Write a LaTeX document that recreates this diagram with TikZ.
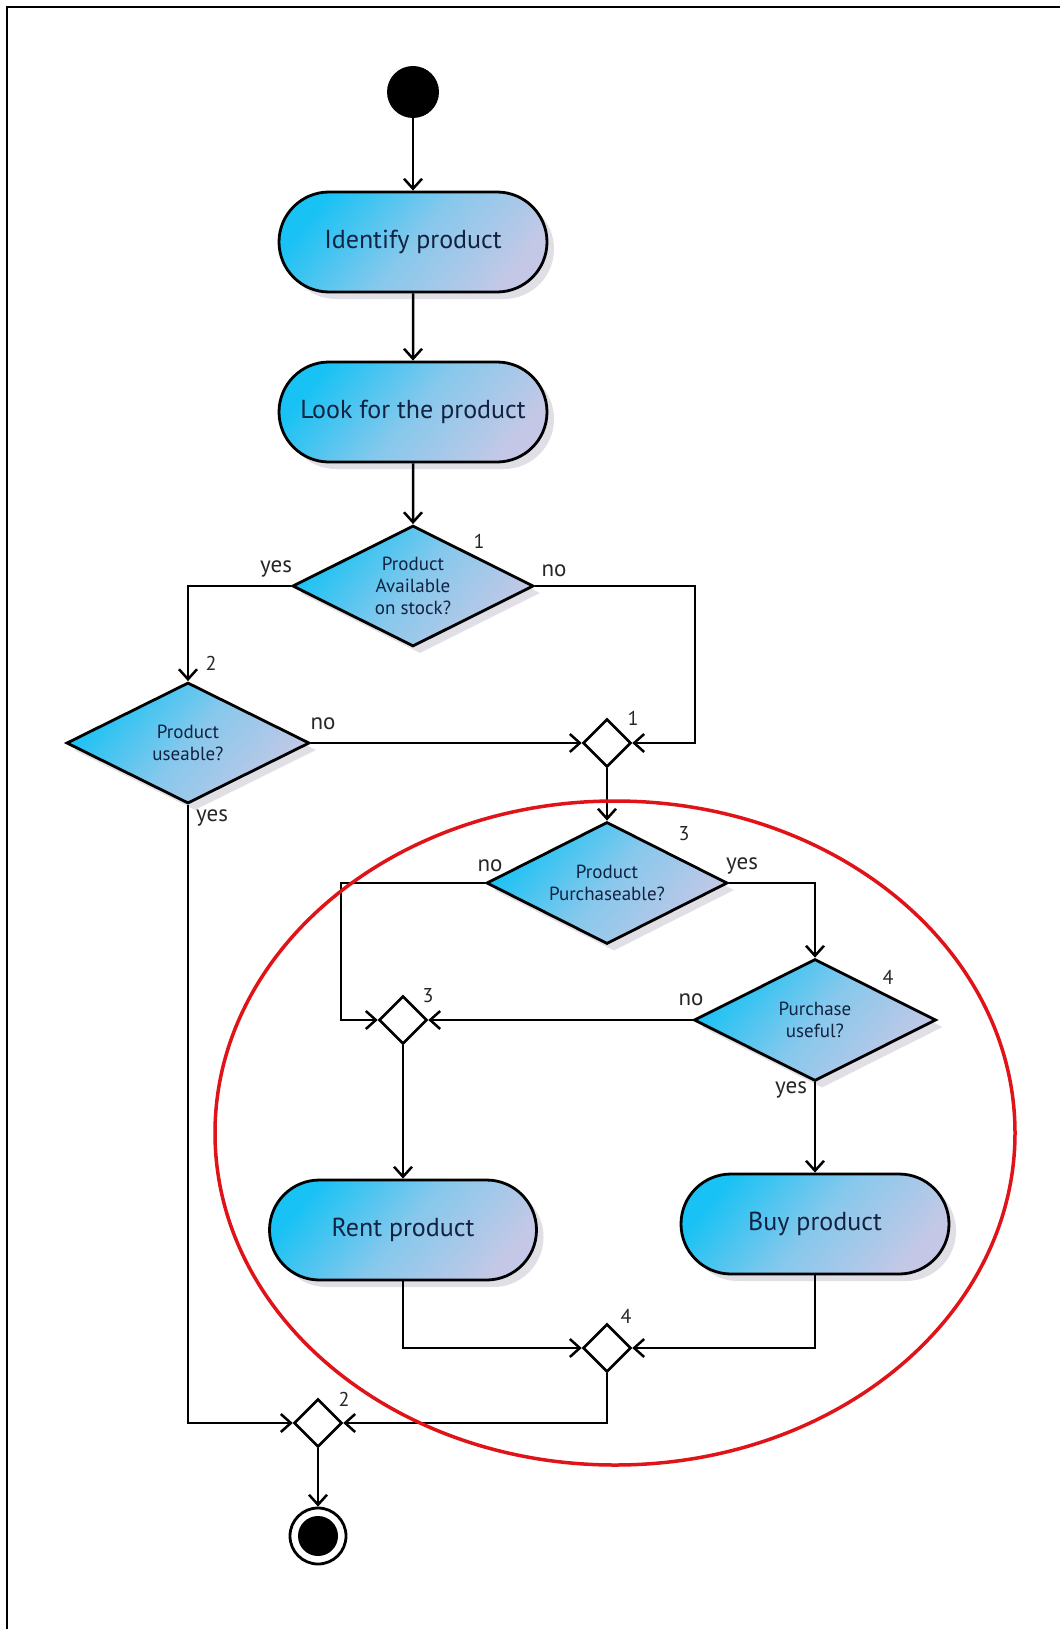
\documentclass[tikz,border=0pt]{standalone}
\usepackage{fontspec}
\setmainfont{PT Sans}
\usetikzlibrary{shapes.geometric,shapes.misc,arrows.meta,shadows}

\definecolor{fillA}{RGB}{24,194,244}
\definecolor{fillM}{RGB}{134,200,236}
\definecolor{fillB}{RGB}{196,200,230}
\definecolor{navy}{RGB}{18,34,64}
\definecolor{ringred}{RGB}{224,20,24}
\definecolor{shadowgray}{RGB}{192,192,204}

\begin{document}
\begin{tikzpicture}[x=1pt,y=-1pt,
  softshadow/.style={drop shadow={shadow xshift=7pt, shadow yshift=-7pt, fill=shadowgray, opacity=0.5}},
  gradfill/.style={top color=fillA, bottom color=fillB, middle color=fillM, shading angle=50},
  action/.style={rounded rectangle, draw, line width=2.8pt, minimum width=268pt,
    minimum height=100pt, inner sep=0pt, gradfill,
    text=navy, font=\fontsize{26}{30}\selectfont, softshadow},
  decision/.style={diamond, aspect=2, draw, line width=2.8pt, minimum width=241pt,
    minimum height=121pt, inner sep=0pt, gradfill, text=navy, align=center,
    font=\fontsize{19}{22}\selectfont, softshadow},
  merge/.style={diamond, draw, fill=white, line width=2.6pt, minimum width=48pt,
    minimum height=48pt, inner sep=0pt},
  flow/.style={line width=2.5pt, -{Straight Barb[length=10pt,width=18pt,line width=2.5pt]}},
  tag/.style={font=\fontsize{23}{27}\selectfont, inner sep=0pt, text=black!85},
  numtag/.style={font=\fontsize{20}{24}\selectfont, inner sep=0pt, text=black!85}
]
\useasboundingbox (0,0) rectangle (1060,1629);
\fill[white] (0,0) rectangle (1060,1629);

% frame edges
\draw[line width=2.4pt] (7,1629) -- (7,7) -- (1060,7);

% start and activities
\node[circle, fill=black, minimum size=52pt, inner sep=0pt] (start) at (413,92) {};
\node[action] (ident) at (413,242) {Identify product};
\node[action] (look) at (413,412) {Look for the product};

% decisions
\node[decision] (d1) at (413,586) {Product\\Available\\on stock?};
\node[decision, minimum width=243pt] (d2) at (188,743) {Product\\useable?};
\node[decision, minimum height=122pt] (d3) at (607,883) {Product\\Purchaseable?};
\node[decision, minimum width=242pt, minimum height=122pt] (d4) at (815,1020) {Purchase\\useful?};

% merges
\node[merge] (m1) at (607,743) {};
\node[merge] (m3) at (403,1020) {};
\node[merge] (m4) at (607,1348) {};
\node[merge] (m2) at (318,1423) {};

% final activities
\node[action, minimum width=267pt] (rent) at (403,1230) {Rent product};
\node[action] (buy) at (815,1224) {Buy product};

% end state
\node[circle, draw, line width=2.8pt, fill=white, minimum size=56pt, inner sep=0pt,
  path picture={\fill[black] (path picture bounding box.center) circle (20pt);}] (end) at (318,1536) {};

% connectors
\coordinate (c1) at (695,586);
\coordinate (c3) at (341,883);
\draw[flow] (start) -- (ident);
\draw[flow] (ident) -- (look);
\draw[flow] (look) -- (d1);
\draw[flow] (d1.west) -| (d2.north);
\draw[flow] (d1.east) -- (c1) |- (m1.east);
\draw[flow] (d2.east) -- (m1.west);
\draw[flow] (m1.south) -- (d3.north);
\draw[flow] (d3.west) -- (c3) |- (m3.west);
\draw[flow] (d3.east) -| (d4.north);
\draw[flow] (d4.west) -- (m3.east);
\draw[flow] (m3.south) -- (rent.north);
\draw[flow] (d4.south) -- (buy.north);
\draw[flow] (rent.south) |- (m4.west);
\draw[flow] (buy.south) |- (m4.east);
\draw[flow] (m4.south) |- (m2.east);
\draw[flow] (d2.south) |- (m2.west);
\draw[flow] (m2.south) -- (end.north);

% branch labels
\node[numtag] (n1) at (479,541) {1};
\node[tag] (y1) at (276,569) {yes};
\node[tag] (o1) at (554,571) {no};
\node[numtag] (n2) at (211,663) {2};
\node[tag] (o2) at (323,724) {no};
\node[tag] (y2) at (212,818) {yes};
\node[numtag] (nm1) at (633,718) {1};
\node[numtag] (n3) at (684,834) {3};
\node[tag] (o3) at (490,866) {no};
\node[tag] (y3) at (742,866) {yes};
\node[numtag] (n4) at (888,977) {4};
\node[tag] (o4) at (691,1000) {no};
\node[tag] (y4) at (791,1090) {yes};
\node[numtag] (nm3) at (428,996) {3};
\node[numtag] (nm4) at (626,1316) {4};
\node[numtag] (nm2) at (344,1399) {2};

% highlighted region
\draw[ringred, line width=3.5pt] (615,1133) ellipse [x radius=400pt, y radius=332pt];
\end{tikzpicture}
\end{document}
